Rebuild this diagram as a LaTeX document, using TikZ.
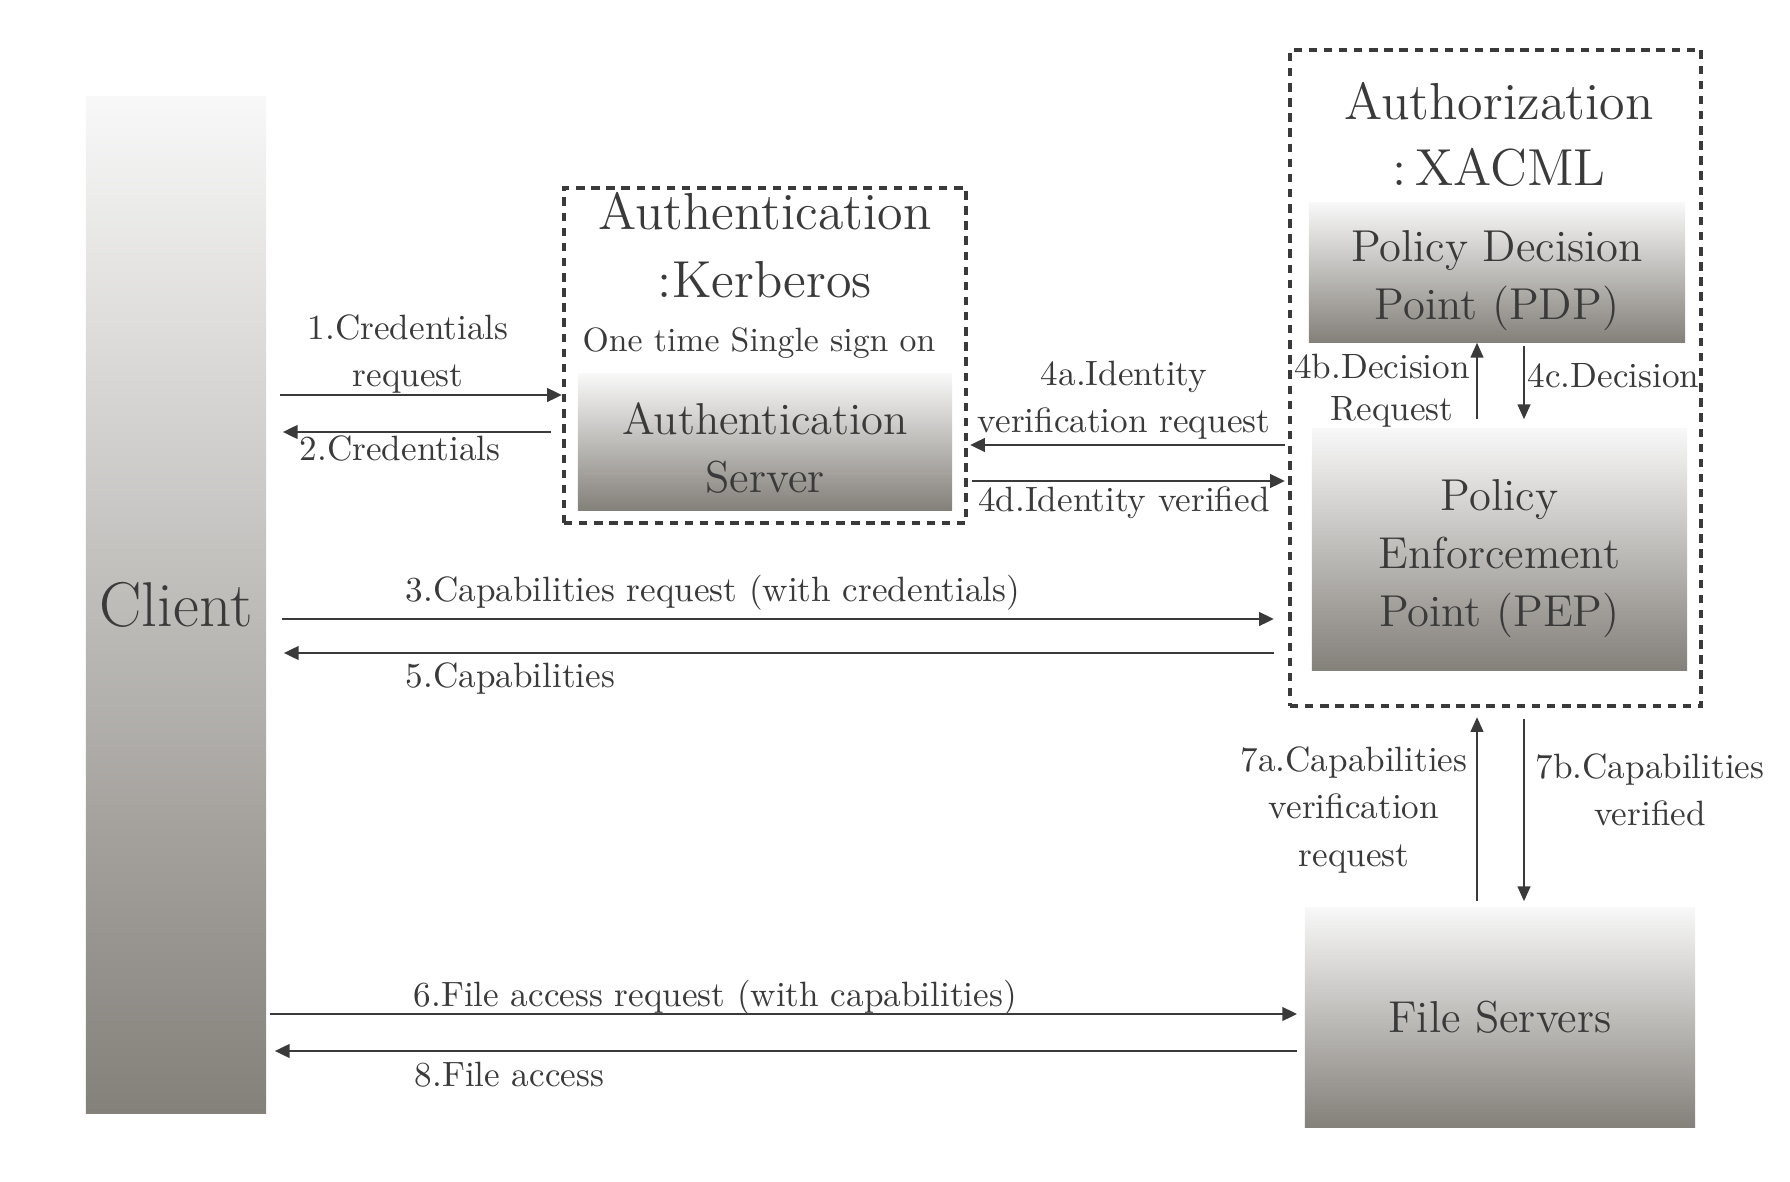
\documentclass[tikz,border=0pt]{standalone}
\usetikzlibrary{arrows.meta}
\definecolor{txt}{HTML}{3A3A3A}
\definecolor{gtop}{HTML}{F8F8F8}
\definecolor{gbot}{HTML}{84807A}
\begin{document}
\begin{tikzpicture}[x=0.01cm,y=-0.01cm,
  box/.style={inner sep=0pt, top color=gtop, bottom color=gbot},
  boxtxt/.style={inner sep=0pt, align=center, text=txt, font=\fontsize{12.7}{16.5}\selectfont},
  group/.style={draw=txt, line width=1.1pt, dash pattern=on 2.4pt off 1.9pt, inner sep=0pt},
  arr/.style={draw=txt, line width=0.8pt, -{Triangle[length=4.2pt,width=3.8pt]}},
  arrv/.style={draw=txt, line width=0.6pt, -{Triangle[length=4.2pt,width=3.6pt]}},
  lbl/.style={text=txt, font=\fontsize{10}{13.4}\selectfont, inner sep=0pt, align=center},
  ttl/.style={text=txt, font=\fontsize{14.8}{19}\selectfont, inner sep=0pt}]
\useasboundingbox (0,0) rectangle (1790,1182);
% nodes
\node[box, minimum width=1.80cm, minimum height=10.16cm] (client) at (176,605) {};
\node[boxtxt, font=\fontsize{18}{21}\selectfont] (clientt) at (client.center) {Client};
\node[group, minimum width=4.02cm, minimum height=3.35cm] (auth) at (765,355.5) {};
\node[box, minimum width=3.74cm, minimum height=1.36cm] (as) at (765,442) {};
\node[boxtxt] (ast) at ([yshift=-0.06cm]as.center) {Authentication\\Server};
\node[group, minimum width=4.11cm, minimum height=6.56cm] (authz) at (1495.5,378) {};
\node[box, minimum width=3.76cm, minimum height=1.39cm] (pdp) at (1497,272.5) {};
\node[boxtxt] (pdpt) at ([yshift=-0.08cm]pdp.center) {Policy Decision\\Point (PDP)};
\node[box, minimum width=3.75cm, minimum height=2.41cm] (pep) at (1499.5,549.5) {};
\node[boxtxt] (pept) at ([yshift=-0.09cm]pep.center) {Policy\\Enforcement\\Point (PEP)};
\node[box, minimum width=3.90cm, minimum height=2.19cm] (fs) at (1500,1017.5) {};
\node[boxtxt] (fst) at (fs.center) {File Servers};
% titles
\node[ttl] (t1) at (765,211) {Authentication};
\node[ttl] (t2) at (765,280) {:Kerberos};
\node[lbl, font=\fontsize{9.6}{12}\selectfont] (t3) at (759,343) {One time Single sign on};
\node[ttl] (t4) at (1499,101) {Authorization};
\node[ttl] (t5) at (1499,167) {:\,XACML};
% connectors
\draw[arr, shorten <=0.13cm] (client.east |- 0,395) -- (auth.west |- 0,395);
\draw[arr, shorten <=0.11cm, shorten >=0.16cm] (auth.west |- 0,432) -- (client.east |- 0,432);
\draw[arr, shorten <=0.03cm, shorten >=0.02cm] (authz.west |- 0,445) -- (auth.east |- 0,445);
\draw[arr, shorten <=0.04cm, shorten >=0.03cm] (auth.east |- 0,481) -- (authz.west |- 0,481);
\draw[arr, shorten <=0.15cm, shorten >=0.14cm] (client.east |- 0,619) -- (authz.west |- 0,619);
\draw[arr, shorten <=0.14cm, shorten >=0.17cm] (authz.west |- 0,653) -- (client.east |- 0,653);
\draw[arrv, shorten <=0.09cm] (pep.north -| 1477,0) -- (pdp.south -| 1477,0);
\draw[arrv, shorten <=0.03cm, shorten >=0.09cm] (pdp.south -| 1524,0) -- (pep.north -| 1524,0);
\draw[arrv, shorten <=0.06cm, shorten >=0.09cm] (fs.north -| 1477,0) -- (authz.south -| 1477,0);
\draw[arrv, shorten <=0.11cm, shorten >=0.06cm] (authz.south -| 1524,0) -- (fs.north -| 1524,0);
\draw[arr, shorten <=0.03cm, shorten >=0.07cm] (client.east |- 0,1014) -- (fs.west |- 0,1014);
\draw[arr, shorten <=0.07cm, shorten >=0.08cm] (fs.west |- 0,1051) -- (client.east |- 0,1051);
% labels
\node[lbl] (l1) at (408,354) {1.Credentials\\request};
\node[lbl] (l2) at (400,448) {2.Credentials};
\node[lbl] (l4a) at (1124,400) {4a.Identity\\verification request};
\node[lbl] (l4d) at (1124,503) {4d.Identity verified};
\node[lbl, anchor=west] (l3) at (405,593) {3.Capabilities request (with credentials)};
\node[lbl, anchor=west] (l5) at (405,679) {5.Capabilities};
\node[lbl] (l4b) at (1382,366) {4b.Decision};
\node[lbl] (l4br) at (1392,412) {Request};
\node[lbl, anchor=west] (l4c) at (1527,376) {4c.Decision};
\node[lbl] (l7a) at (1354,810) {7a.Capabilities\\verification\\request};
\node[lbl] (l7b) at (1650,790) {7b.Capabilities\\verified};
\node[lbl, anchor=west] (l6) at (413,998) {6.File access request (with capabilities)};
\node[lbl, anchor=west] (l8) at (414,1075) {8.File access};
\end{tikzpicture}
\end{document}
